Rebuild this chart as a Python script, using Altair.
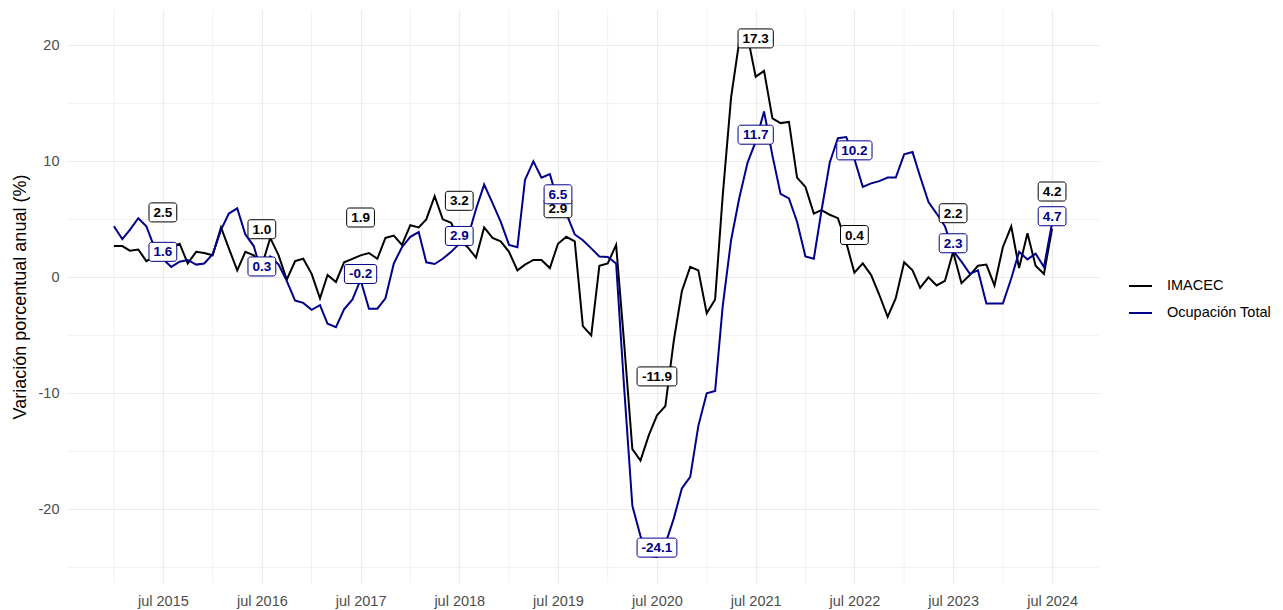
import altair as alt
import pandas as pd

# ---------------- data ----------------
fechas = pd.date_range("2015-01-01", "2024-07-01", freq="MS")

imacec = [
    2.7, 2.7, 2.3, 2.4, 1.4, 1.8, 2.5, 2.6, 2.9, 1.2, 2.2, 2.1,        # 2015
    1.9, 4.3, 2.5, 0.6, 2.2, 1.9, 1.0, 3.4, 1.9, -0.2, 1.4, 1.6,       # 2016
    0.3, -1.8, 0.2, -0.4, 1.3, 1.6, 1.9, 2.1, 1.6, 3.4, 3.6, 2.8,      # 2017
    4.5, 4.3, 5.0, 7.0, 5.0, 4.7, 3.2, 2.6, 1.7, 4.3, 3.4, 3.1,        # 2018
    2.2, 0.6, 1.1, 1.5, 1.5, 0.8, 2.9, 3.5, 3.1, -4.2, -5.0, 1.0,      # 2019
    1.2, 2.8, -5.5, -14.8, -15.8, -13.6, -11.9, -11.1, -5.5, -1.2, 0.9, 0.6,  # 2020
    -3.1, -1.9, 7.0, 15.5, 20.3, 20.8, 17.3, 17.8, 13.7, 13.3, 13.4, 8.6,     # 2021
    7.8, 5.5, 5.8, 5.4, 5.1, 3.0, 0.4, 1.2, 0.2, -1.5, -3.4, -1.8,     # 2022
    1.3, 0.6, -0.9, 0.0, -0.7, -0.3, 2.2, -0.5, 0.2, 1.0, 1.1, -0.7,   # 2023
    2.6, 4.4, 0.8, 3.8, 1.0, 0.3, 4.2,                                 # 2024
]

ocupacion = [
    4.4, 3.3, 4.1, 5.1, 4.4, 2.5, 1.6, 0.9, 1.35, 1.5, 1.1, 1.2,       # 2015
    2.0, 4.1, 5.5, 5.95, 3.7, 2.7, 0.3, 1.8, 1.1, -0.3, -2.0, -2.2,    # 2016
    -2.8, -2.4, -4.0, -4.3, -2.75, -1.9, -0.2, -2.7, -2.7, -1.8, 1.2, 2.6,  # 2017
    3.5, 3.9, 1.3, 1.15, 1.6, 2.2, 2.9, 3.4, 5.9, 8.0, 6.4, 4.8,       # 2018
    2.8, 2.6, 8.4, 10.0, 8.6, 8.9, 6.5, 5.5, 3.7, 3.2, 2.5, 1.8,       # 2019
    1.75, 1.2, -9.3, -19.7, -22.3, -24.0, -24.1, -23.0, -20.8, -18.2, -17.2, -12.8,  # 2020
    -10.0, -9.8, -2.5, 3.2, 6.8, 9.9, 11.7, 14.3, 10.5, 7.2, 6.8, 4.8,  # 2021
    1.8, 1.6, 5.7, 9.9, 12.0, 12.1, 10.2, 7.8, 8.1, 8.3, 8.6, 8.6,     # 2022
    10.6, 10.8, 8.7, 6.5, 5.5, 4.4, 2.3, 1.35, 0.3, 0.6, -2.25, -2.25, # 2023
    -2.25, -0.1, 2.2, 1.55, 2.05, 0.9, 4.7,                            # 2024
]

series_names = ["IMACEC", "Ocupación Total"]
series_colors = ["#000000", "#00008B"]

# July values that are labelled, and the (repelled) height of each label
label_years = list(range(2015, 2025))
imacec_label_vals = [2.5, 1.0, 1.9, 3.2, 2.9, -11.9, 17.3, 0.4, 2.2, 4.2]
imacec_label_at = [5.6, 4.15, 5.16, 6.6, 5.96, -8.54, 20.6, 3.65, 5.53, 7.4]
ocup_label_vals = [1.6, 0.3, -0.2, 2.9, 6.5, -24.1, 11.7, 10.2, 2.3, 4.7]
ocup_label_at = [2.2, 0.94, 0.29, 3.57, 7.16, -23.3, 12.3, 10.95, 2.94, 5.27]

y_ticks = [-20, -10, 0, 10, 20]
y_minor = [-25, -15, -5, 5, 15]
x_minor_years = list(range(2015, 2025))

# ---------------- layout ----------------
W, H = 1032, 573
Y_MIN, Y_MAX = -26.35, 23.05
x_start = pd.Timestamp("2014-07-11 12:00")
x_end = pd.Timestamp("2024-12-21 12:00")
px_per_day = W / ((x_end - x_start).total_seconds() / 86400)
px_per_unit = H / (Y_MAX - Y_MIN)
FONT = "Liberation Sans"
LABEL_SIZE = 13.5
Y_TITLE = "Variación porcentual anual (%)"


def iso(ts):
    return pd.Timestamp(ts).strftime("%Y-%m-%dT%H:%M:%S")


def text_em(s):
    return sum({".": 0.278, "-": 0.333}.get(ch, 0.556) for ch in s)


df = pd.DataFrame({
    "fecha": [iso(d) for d in fechas] * 2,
    "valor": imacec + ocupacion,
    "serie": [series_names[0]] * len(imacec) + [series_names[1]] * len(ocupacion),
})


def label_frame(vals, at):
    rows = []
    for yr, v, a in zip(label_years, vals, at):
        txt = f"{v:.1f}"
        center = pd.Timestamp(f"{yr}-07-01")
        half_w = (text_em(txt) * LABEL_SIZE + 9) / 2 / px_per_day
        half_h = 9.5 / px_per_unit
        rows.append({
            "fecha": iso(center),
            "x0": iso(center - pd.Timedelta(days=half_w)),
            "x1": iso(center + pd.Timedelta(days=half_w)),
            "y": a, "y0": a - half_h, "y1": a + half_h,
            "txt": txt,
        })
    return pd.DataFrame(rows)


lab_imacec = label_frame(imacec_label_vals, imacec_label_at)
lab_ocup = label_frame(ocup_label_vals, ocup_label_at)

xscale = alt.Scale(
    domain=[alt.DateTime(year=2014, month=7, date=11, hours=12),
            alt.DateTime(year=2024, month=12, date=21, hours=12)],
    nice=False)
yscale = alt.Scale(domain=[Y_MIN, Y_MAX], nice=False, zero=False)

grid_col = "#EBEBEB"

x_axis = alt.Axis(values=[alt.DateTime(year=y, month=7, date=1) for y in label_years],
                  labelExpr="lower(timeFormat(datum.value, '%b %Y'))",
                  grid=True, gridColor=grid_col, gridWidth=1.2,
                  domain=False, ticks=False, labelPadding=11,
                  labelFontSize=14.5, labelColor="#4D4D4D", labelFont=FONT)
y_axis = alt.Axis(values=y_ticks, labelExpr="'' + datum.value",
                  grid=True, gridColor=grid_col, gridWidth=1.2,
                  domain=False, ticks=False, labelPadding=8,
                  labelFontSize=14.5, labelColor="#4D4D4D", labelFont=FONT,
                  titleFont=FONT, titleFontSize=18, titleFontWeight="normal",
                  titleColor="#000000", titlePadding=9)


def X(field):
    return alt.X(field, scale=xscale, axis=x_axis, title=None)


def Y(field):
    return alt.Y(field, scale=yscale, axis=y_axis, title=Y_TITLE)


minor_x = alt.Chart(pd.DataFrame({"fecha": [iso(f"{y}-01-01") for y in x_minor_years]})).mark_rule(
    color=grid_col, strokeWidth=0.7).encode(x=X("fecha:T"))
minor_y = alt.Chart(pd.DataFrame({"valor": y_minor})).mark_rule(
    color=grid_col, strokeWidth=0.7).encode(y=Y("valor:Q"))

lines = alt.Chart(df).mark_line(strokeWidth=2).encode(
    x=X("fecha:T"),
    y=Y("valor:Q"),
    color=alt.Color("serie:N", scale=alt.Scale(domain=series_names, range=series_colors),
                    legend=alt.Legend(title=None, orient="none", legendX=1061, legendY=263.5,
                                      symbolType="stroke", symbolSize=529, symbolStrokeWidth=2,
                                      labelFontSize=14.5, labelFont=FONT, labelColor="#000000",
                                      labelOffset=14, rowPadding=8, padding=0)),
)


def label_layers(lab, col):
    box = alt.Chart(lab).mark_rect(fill="white", stroke=col, strokeWidth=1,
                                   cornerRadius=2.5).encode(
        x=X("x0:T"), x2="x1:T",
        y=Y("y0:Q"), y2="y1:Q")
    txt = alt.Chart(lab).mark_text(font=FONT, fontSize=LABEL_SIZE, fontWeight="bold",
                                   color=col, baseline="middle", align="center", dy=0.5).encode(
        x=X("fecha:T"),
        y=Y("y:Q"),
        text="txt:N")
    return [box, txt]


chart = alt.layer(
    minor_x, minor_y, lines,
    *label_layers(lab_imacec, series_colors[0]),
    *label_layers(lab_ocup, series_colors[1]),
).properties(
    width=W, height=H,
    autosize=alt.AutoSizeParams(type="none"),
    padding={"left": 59, "top": 2, "right": 176, "bottom": 27},
    background="white",
).configure_view(stroke=None)

chart.save("out.html", embed_options={"renderer": "svg", "actions": False})
